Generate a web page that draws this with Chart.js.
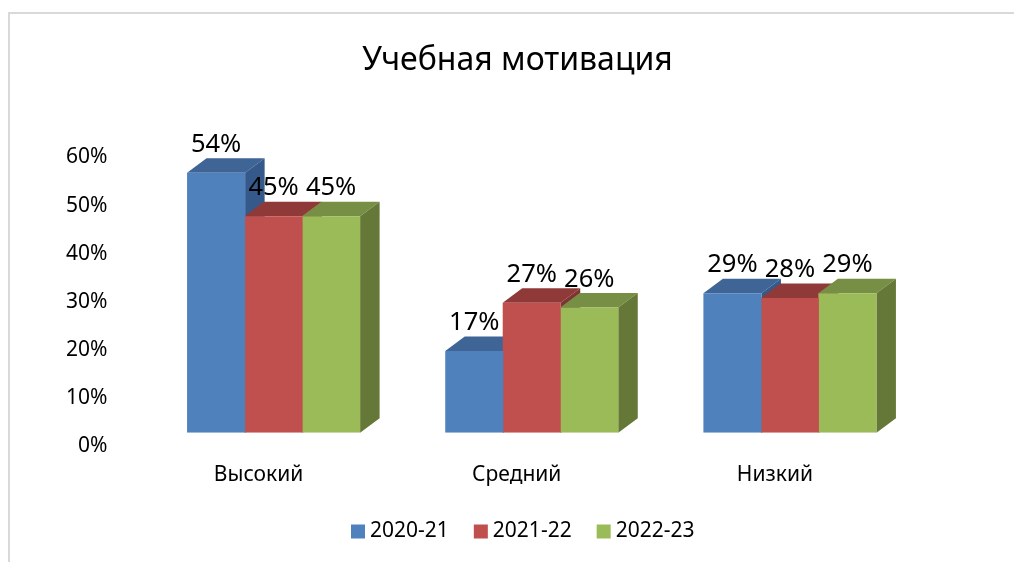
<!DOCTYPE html>
<html>
<head>
<meta charset="utf-8">
<title>Учебная мотивация</title>
<script src="https://cdn.jsdelivr.net/npm/chart.js@4"></script>
<style>
    html, body { margin: 0; padding: 0; background: #fff; overflow: hidden; }
    #frame { position: absolute; left: 8px; top: 12px; width: 1100px; height: 600px;
             border-top: 2px solid #d9d9d9; border-left: 2px solid #d9d9d9; }
    canvas { position: absolute; left: 0; top: 0; }
</style>
</head>
<body>
<div id="frame"></div>
<canvas id="barChart" width="1014" height="562"></canvas>
<script>
// DATA

const categories = ['Высокий', 'Средний', 'Низкий'];
const years = ['2020-21', '2021-22', '2022-23'];

const values2020 = [54, 17, 29];
const values2021 = [45, 27, 28];
const values2022 = [45, 26, 29];

const frontColors = ['#4f81bd', '#c0504d', '#9bbb59'];
const topColors = ['#3e6595', '#8f3a38', '#778f45'];
const sideColors = ['#35598a', '#7d3432', '#667838'];

const fontName = '"Noto Sans", sans-serif';

// 3D FACES AND VALUE LABELS

const depthX = 19.5;
const depthY = 14.5;

function face(ctx, color, points) {
    ctx.fillStyle = color;
    ctx.beginPath();
    points.forEach((p, i) => i ? ctx.lineTo(p[0], p[1]) : ctx.moveTo(p[0], p[1]));
    ctx.closePath();
    ctx.fill();
}

const bars3d = {
    id: 'bars3d',
    beforeDatasetsDraw(chart) {
        const ctx = chart.ctx;
        categories.forEach((c, i) => {
            years.forEach((y, d) => {
                const bar = chart.getDatasetMeta(d).data[i];
                const left = bar.x - bar.width / 2;
                const right = bar.x + bar.width / 2;
                face(ctx, topColors[d], [[left, bar.y], [left + depthX, bar.y - depthY], [right + depthX, bar.y - depthY], [right, bar.y]]);
                face(ctx, sideColors[d], [[right, bar.y], [right + depthX, bar.y - depthY], [right + depthX, bar.base - depthY], [right, bar.base]]);
            });
        });
    },
    afterDatasetsDraw(chart) {
        const ctx = chart.ctx;
        ctx.fillStyle = '#000';
        ctx.font = '25.5px ' + fontName;
        ctx.textAlign = 'center';
        ctx.textBaseline = 'middle';
        chart.data.datasets.forEach((set, d) => {
            chart.getDatasetMeta(d).data.forEach((bar, i) => {
                ctx.fillText(set.data[i] + '%', bar.x, bar.y - 28);
            });
        });
    }
};

// title and legend are not centred on the plot in the original
const nudgeBoxes = {
    id: 'nudgeBoxes',
    afterLayout(chart) {
        chart.titleBlock.left += 58;
        chart.titleBlock.right += 58;
        chart.legend.left += 66;
        chart.legend.right += 66;
        chart.legend.top -= 10;
        chart.legend.bottom -= 10;
    }
};

// BAR CHART

const barChart = document.getElementById('barChart');

new Chart(barChart, {
    type: 'bar',
    plugins: [bars3d, nudgeBoxes],
    data: {
        labels: categories,
        datasets: [
            { label: years[0], data: values2020, backgroundColor: frontColors[0] },
            { label: years[1], data: values2021, backgroundColor: frontColors[1] },
            { label: years[2], data: values2022, backgroundColor: frontColors[2] }
        ]
    },
    options: {
        responsive: false,
        animation: false,
        layout: { padding: { left: 0, right: 95, top: 0, bottom: 0 } },
        // bars overlap a hair so no light seam shows between them
        datasets: { bar: { categoryPercentage: 0.668, barPercentage: 1.01, borderWidth: 0 } },
        scales: {
            x: {
                grid: { display: false, drawTicks: false },
                border: { display: false },
                afterFit(scale) { scale.height -= 17.5; },
                ticks: { color: '#000', font: { family: fontName, size: 21 }, padding: 30, labelOffset: -15, maxRotation: 0 }
            },
            y: {
                min: 0,
                max: 60,
                grid: { display: false, drawTicks: false },
                border: { display: false },
                afterFit(scale) { scale.width = 144.5; },
                ticks: {
                    stepSize: 10,
                    color: '#000',
                    font: { family: fontName, size: 21 },
                    padding: 37,
                    labelOffset: 13.5,
                    callback: v => v + '%'
                }
            }
        },
        plugins: {
            tooltip: { enabled: false },
            title: {
                display: true,
                text: 'Учебная мотивация',
                color: '#000',
                font: { family: fontName, size: 32, weight: 'normal' },
                padding: { top: 42, bottom: 63.5 }
            },
            legend: {
                position: 'bottom',
                labels: {
                    color: '#000',
                    font: { family: fontName, size: 21 },
                    usePointStyle: true,
                    pointStyle: 'rect',
                    boxWidth: 3,
                    boxHeight: 14,
                    padding: 30.5
                }
            }
        }
    }
});
</script>
</body>
</html>
